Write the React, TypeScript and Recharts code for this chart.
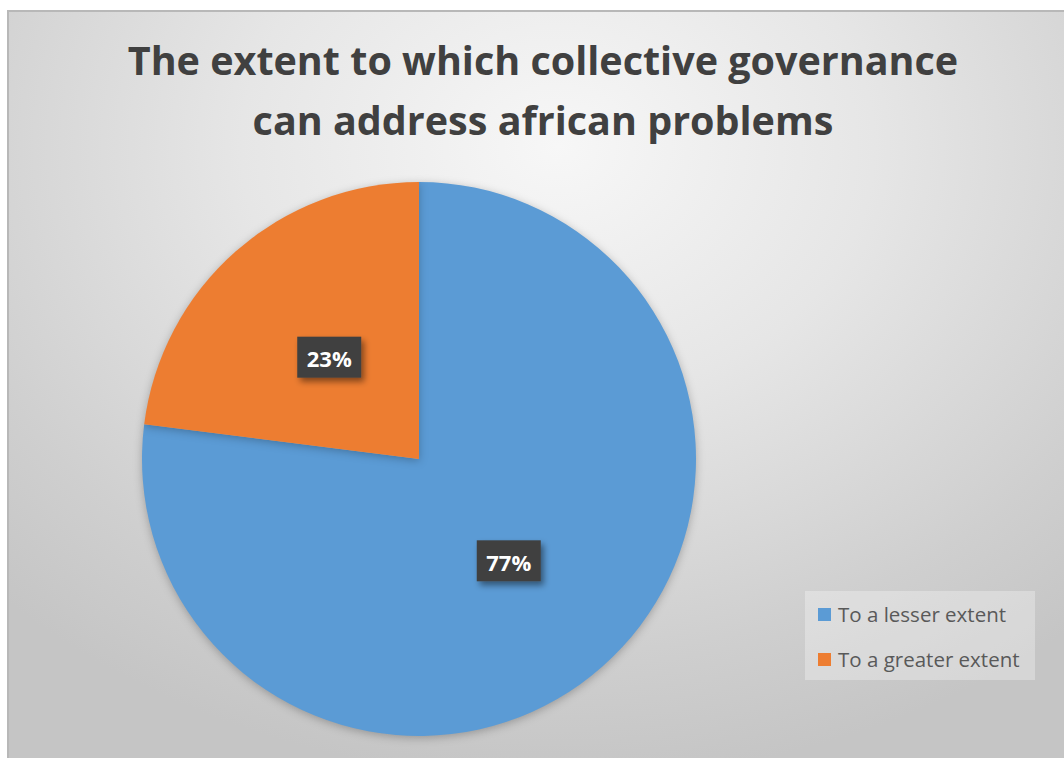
import { PieChart, Pie, Cell, Legend } from 'recharts';

const categories = ['To a lesser extent', 'To a greater extent'];
const shares = [77, 23];
const colors = ['#5B9BD5', '#ED7D31'];

const data = categories.map((name, i) => ({ name, value: shares[i] }));

const RAD = Math.PI / 180;
const FONT = "'Open Sans', Lato, sans-serif";

function renderLabel(props: any) {
  const { cx, cy, midAngle, outerRadius, value } = props;
  const r = outerRadius * 0.49;
  const x = cx + r * Math.cos(-midAngle * RAD);
  const y = cy + r * Math.sin(-midAngle * RAD);
  const w = 64;
  const h = 41;
  return (
    <g>
      <rect x={x - w / 2} y={y - h / 2} width={w} height={h} fill="#404040" filter="url(#lblShadow)" />
      <text
        x={x}
        y={y + 1}
        textAnchor="middle"
        dominantBaseline="central"
        fill="#ffffff"
        fontSize={22}
        fontWeight="bold"
        fontFamily={FONT}
      >
        {value}%
      </text>
    </g>
  );
}

// legend drawn from our own arrays so the order stays as in the source
function renderLegend() {
  return (
    <div
      style={{
        background: 'rgba(255,255,255,0.3)',
        width: 230,
        height: 89,
        boxSizing: 'border-box',
        padding: '11px 0 0 13px',
        fontFamily: FONT,
        fontSize: 20.5,
        color: '#595959',
        whiteSpace: 'nowrap',
      }}
    >
      {categories.map((name, i) => (
        <div key={name} style={{ display: 'flex', alignItems: 'center', height: 24, marginBottom: 21 }}>
          <span style={{ width: 13, height: 13, background: colors[i], display: 'inline-block', marginRight: 7 }} />
          <span>{name}</span>
        </div>
      ))}
    </div>
  );
}

export default function App() {
  return (
    <div
      style={{
        position: 'absolute',
        left: 7,
        top: 10,
        width: 1057,
        height: 748,
        boxSizing: 'border-box',
        borderTop: '2px solid #b8b8b8',
        borderLeft: '2px solid #b8b8b8',
        background: 'radial-gradient(ellipse 75% 85% at 52% 18%, #f7f7f7 0%, #e6e6e6 40%, #cfcfcf 80%, #c5c5c5 100%)',
        overflow: 'hidden',
      }}
    >
      <div
        style={{
          position: 'absolute',
          left: 0,
          top: 18,
          width: 1068,
          textAlign: 'center',
          fontFamily: FONT,
          fontWeight: 'bold',
          fontSize: 39.5,
          lineHeight: '60px',
          color: '#404040',
        }}
      >
        The extent to which collective governance
        <br />
        can address african problems
      </div>
      <PieChart width={1055} height={746} style={{ position: 'absolute', left: 0, top: 0 }}>
        <defs>
          <filter id="lblShadow" x="-30%" y="-30%" width="170%" height="180%">
            <feDropShadow dx={3} dy={4} stdDeviation={3} floodColor="#000" floodOpacity={0.45} />
          </filter>
        </defs>
        <Pie
          data={data}
          dataKey="value"
          nameKey="name"
          cx={405}
          cy={442}
          outerRadius={277}
          startAngle={90}
          endAngle={-270}
          stroke="none"
          label={renderLabel}
          labelLine={false}
          isAnimationActive={false}
          style={{ filter: 'drop-shadow(0 2px 4px rgba(0,0,0,0.25))' }}
        >
          {data.map((d, i) => (
            <Cell key={d.name} fill={colors[i]} />
          ))}
        </Pie>
        <Legend
          content={renderLegend}
          layout="vertical"
          wrapperStyle={{ position: 'absolute', left: 796, top: 579, width: 230 }}
        />
      </PieChart>
    </div>
  );
}
